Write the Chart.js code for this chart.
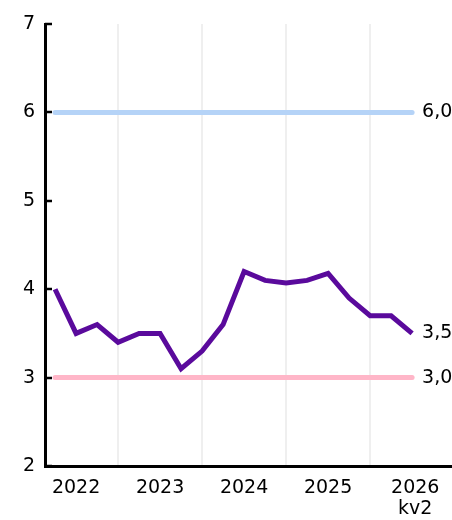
<!DOCTYPE html>
<html>
<head>
<meta charset="utf-8">
<script src="https://cdn.jsdelivr.net/npm/chart.js@4"></script>
<style>
  html, body { margin: 0; padding: 0; background: #fff; }
  #wrap { width: 452px; height: 520px; position: relative; }
</style>
</head>
<body>
<div id="wrap"><canvas id="chart"></canvas></div>
<script>
// quarter index: 1 = 2022 kv1 ... 18 = 2026 kv2
const quarters = [1, 2, 3, 4, 5, 6, 7, 8, 9, 10, 11, 12, 13, 14, 15, 16, 17, 18];
const inflation = [4.0, 3.5, 3.6, 3.4, 3.5, 3.5, 3.1, 3.3, 3.6, 4.2, 4.1, 4.07, 4.1, 4.18, 3.9, 3.7, 3.7, 3.5];
const upperLine = [6.0, 6.0];
const lowerLine = [3.0, 3.0];
const yearLabels = ['2022', '2023', '2024', '2025', ['2026', 'kv2']];
const yearPos = [2, 6, 10, 14, 18.15];
const gridPos = [4, 8, 12, 16];
const yTicks = [2, 3, 4, 5, 6, 7];

const FONT = { family: 'DejaVu Sans', size: 19, lineHeight: 1.1 };

// end labels + inner tick marks on the y axis
const extras = {
  id: 'extras',
  afterDatasetsDraw(chart) {
    const ctx = chart.ctx;
    const x = chart.scales.x, y = chart.scales.y;
    ctx.save();
    ctx.font = '19px "DejaVu Sans"';
    ctx.fillStyle = '#000';
    ctx.textAlign = 'left';
    ctx.textBaseline = 'middle';
    const lx = x.getPixelForValue(quarters[quarters.length - 1]) + 10;
    const fmt = v => v.toFixed(1).replace('.', ',');
    ctx.fillText(fmt(upperLine[1]), lx, y.getPixelForValue(upperLine[1]));
    ctx.fillText(fmt(inflation[inflation.length - 1]), lx, y.getPixelForValue(inflation[inflation.length - 1]));
    ctx.fillText(fmt(lowerLine[1]), lx, y.getPixelForValue(lowerLine[1]));

    ctx.strokeStyle = '#000';
    ctx.lineWidth = 2.5;
    const ax = chart.chartArea.left;
    yTicks.forEach(v => {
      const py = Math.round(y.getPixelForValue(v));
      ctx.beginPath();
      ctx.moveTo(ax, py);
      ctx.lineTo(ax + 7, py);
      ctx.stroke();
    });
    ctx.restore();
  }
};

new Chart(document.getElementById('chart'), {
  type: 'line',
  data: {
    datasets: [
      {
        data: [quarters[0], quarters[quarters.length - 1]].map((q, i) => ({ x: q, y: upperLine[i] })),
        borderColor: '#b5d3f7',
        borderWidth: 5,
        borderCapStyle: 'round',
        pointRadius: 0
      },
      {
        data: [quarters[0], quarters[quarters.length - 1]].map((q, i) => ({ x: q, y: lowerLine[i] })),
        borderColor: '#ffb6c8',
        borderWidth: 5,
        borderCapStyle: 'round',
        pointRadius: 0
      },
      {
        data: quarters.map((q, i) => ({ x: q, y: inflation[i] })),
        borderColor: '#5a0a9c',
        borderWidth: 5,
        borderJoinStyle: 'miter',
        pointRadius: 0,
        tension: 0
      }
    ]
  },
  options: {
    responsive: true,
    maintainAspectRatio: false,
    animation: false,
    layout: { padding: { top: 24, right: 0, left: 0, bottom: 0 } },
    plugins: { legend: { display: false }, tooltip: { enabled: false } },
    scales: {
      x: {
        type: 'linear',
        min: 0.52,
        max: 19.9,
        afterBuildTicks(scale) {
          scale.ticks = yearPos.concat(gridPos).sort((a, b) => a - b).map(v => ({ value: v }));
        },
        afterFit(scale) { scale.height = 54; },
        ticks: {
          autoSkip: false,
          maxRotation: 0,
          padding: 12,
          color: '#000',
          font: FONT,
          callback(v) {
            const i = yearPos.indexOf(v);
            return i >= 0 ? yearLabels[i] : '';
          }
        },
        grid: {
          drawTicks: false,
          lineWidth: 2,
          color(c) { return gridPos.includes(c.tick && c.tick.value) ? '#efefef' : 'rgba(0,0,0,0)'; }
        },
        border: { color: '#000', width: 3 }
      },
      y: {
        min: 2,
        max: 7,
        afterBuildTicks(scale) { scale.ticks = yTicks.map(v => ({ value: v })); },
        afterFit(scale) { scale.width = 45; },
        ticks: { padding: 10, color: '#000', font: FONT },
        grid: { drawTicks: false, drawOnChartArea: false },
        border: { color: '#000', width: 3 }
      }
    }
  },
  plugins: [extras]
});
</script>
</body>
</html>
